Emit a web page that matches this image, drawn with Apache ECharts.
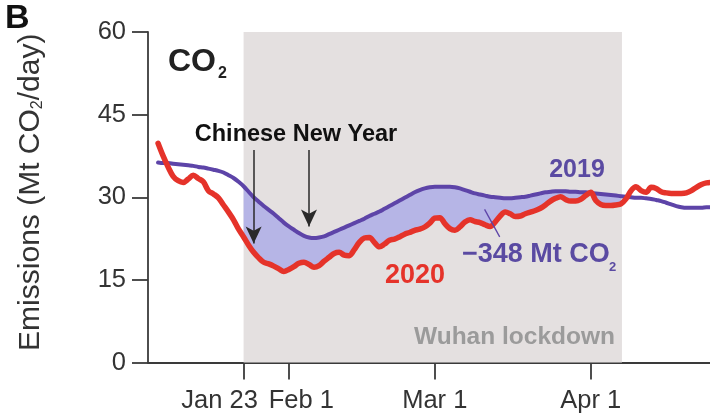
<!DOCTYPE html>
<html>
<head>
<meta charset="utf-8">
<script src="https://cdn.jsdelivr.net/npm/echarts@6/dist/echarts.min.js"></script>
<style>
  html, body { margin: 0; padding: 0; background: #ffffff; }
  #chart { width: 710px; height: 415px; }
</style>
</head>
<body>
<div id="chart"></div>
<script>
// Daily CO2 emissions (Mt CO2/day). x is the day of the year, 0 = Jan 1.
const firstDay = 5; // Jan 6

const emis2019 = [
  36.3, 36.2, 36.2, 36.1, 36.0, 35.9, 35.8, 35.7, 35.5,
  35.4, 35.2, 35.0, 34.8, 34.5, 34.0, 33.5, 32.8,
  32.0, 31.0, 30.0, 29.2, 28.4, 27.7, 27.0, 26.2, 25.4,
  24.7, 24.1, 23.5, 23.0, 22.7, 22.6, 22.7, 22.9, 23.3, 23.7,
  24.1, 24.5, 24.9, 25.3, 25.7, 26.1, 26.6, 27.0, 27.4, 27.9,
  28.4, 28.9, 29.4, 29.9, 30.4, 30.9, 31.3, 31.6, 31.8, 31.9,
  31.9, 31.9, 31.9, 31.8, 31.6, 31.3, 31.0, 30.7, 30.5, 30.3,
  30.1, 30.0, 29.9, 29.8, 29.8, 29.9, 30.0, 30.1, 30.3, 30.5,
  30.7, 30.9, 31.0, 31.1, 31.1, 31.1, 31.0, 31.0, 30.9, 30.9,
  30.8, 30.7, 30.6, 30.5, 30.4, 30.3, 30.2, 30.1, 30.0, 29.9,
  29.9, 29.8, 29.7, 29.5, 29.3, 29.0, 28.7, 28.4, 28.2, 28.1,
  28.1, 28.1, 28.1, 28.2, 28.2
];

const emis2020 = [
  39.8, 37.5, 35.5, 33.8, 33.0, 32.7, 33.3, 34.0, 33.4, 32.8,
  31.2, 30.6, 29.9, 28.6, 27.3, 25.9, 24.2, 22.8, 21.3, 20.0,
  19.0, 18.2, 17.9, 17.5, 17.0, 16.5, 16.9, 17.4, 18.0, 18.2,
  17.8, 17.3, 17.6, 18.4, 19.1, 19.8, 20.0, 19.5, 19.4, 20.5,
  21.8, 22.6, 22.7, 21.8, 21.0, 21.5, 22.2, 22.4, 22.8, 23.3,
  23.6, 24.0, 24.2, 24.6, 25.3, 26.2, 26.3, 25.2, 24.3, 24.0,
  24.6, 25.5, 25.9, 25.6, 25.4, 25.0, 24.7, 25.5, 26.6, 27.3,
  27.0, 26.5, 26.6, 27.0, 27.3, 27.6, 28.0, 28.6, 29.3, 29.8,
  30.1, 29.6, 29.3, 29.3, 29.6, 30.3, 30.9, 29.4, 28.7, 28.5,
  28.5, 28.6, 28.8, 29.7, 31.2, 31.9, 31.2, 30.9, 31.8, 31.6,
  31.0, 30.8, 30.7, 30.7, 30.7, 30.8, 31.2, 31.8, 32.3, 32.6, 32.7
];

const tickDays = [22, 31, 60, 91];
const tickLabels = ['Jan 23', 'Feb 1', 'Mar 1', 'Apr 1'];
const yTicks = [0, 15, 30, 45, 60];

const lockdownStart = 22;   // Jan 23
const lockdownEnd = 97.2;   // early April
const newYear2020 = 24;     // Jan 25, 2020
const newYear2019 = 35;     // Feb 5, 2019
const gapLabel = '\u2212348 Mt CO';

const xMin = 3;
const xMax = 114.7;

const RED = '#e5332a';
const PURPLE = '#5d44a8';
const PURPLE_TEXT = '#5a4aa2';
const SHADE = '#e4e0e0';
const GAP_FILL = '#b6b5e6';
const INK = '#333333';
const FONT = '"Liberation Sans", Arial, Helvetica, sans-serif';
const TICK_FONT = 25.5;

const pairs = arr => arr.map((v, i) => [firstDay + i, v]);

const chart = echarts.init(document.getElementById('chart'), null, { renderer: 'canvas' });

const txt = (x, y, text, font, fill, align) => ({
  type: 'text', x, y, z: 100,
  style: { text, font: font + ' ' + FONT, fill, align: align || 'left', verticalAlign: 'middle' }
});

const option = {
  animation: false,
  backgroundColor: '#ffffff',
  textStyle: { fontFamily: FONT },
  grid: { left: 148, right: 0, top: 32, bottom: 52.5, containLabel: false },
  xAxis: {
    type: 'value',
    min: xMin,
    max: xMax,
    splitLine: { show: false },
    axisLine: { show: true, onZero: false, lineStyle: { color: '#3a3a3a', width: 1.8 } },
    axisTick: {
      show: true, length: 17, customValues: tickDays,
      lineStyle: { color: '#3a3a3a', width: 1.8 }
    },
    axisLabel: {
      customValues: tickDays,
      margin: 25,
      fontSize: TICK_FONT,
      color: INK,
      fontFamily: FONT,
      formatter: v => {
        const i = tickDays.indexOf(v);
        if (i === 0) return '{l|' + tickLabels[i] + '}';
        if (i === 1) return '{r|' + tickLabels[i] + '}';
        return i >= 0 ? tickLabels[i] : '';
      },
      rich: {
        l: { fontSize: TICK_FONT, color: INK, fontFamily: FONT, padding: [0, 48, 0, 0] },
        r: { fontSize: TICK_FONT, color: INK, fontFamily: FONT, padding: [0, 0, 0, 25] }
      }
    }
  },
  yAxis: {
    type: 'value',
    min: 0,
    max: 60,
    interval: 15,
    splitLine: { show: false },
    axisLine: { show: true, lineStyle: { color: '#3a3a3a', width: 1.8 } },
    axisTick: { show: true, length: 16, lineStyle: { color: '#3a3a3a', width: 1.8 } },
    axisLabel: {
      margin: 22, fontSize: TICK_FONT, color: INK, fontFamily: FONT,
      formatter: v => (yTicks.indexOf(v) >= 0 ? String(v) : '')
    },
    name: 'Emissions (Mt CO{s|2}/day)',
    nameLocation: 'middle',
    nameRotate: 90,
    nameGap: 102,
    nameTextStyle: {
      fontSize: 30, color: INK, fontFamily: FONT, padding: [0, 0, 0, 10],
      rich: { s: { fontSize: 16, color: INK, fontFamily: FONT, padding: [15, 0, 0, 0] } }
    }
  },
  series: [
    {
      // lockdown shading and the 2019-2020 gap
      type: 'custom',
      coordinateSystem: 'cartesian2d',
      silent: true,
      z: 1,
      data: [[lockdownStart, 0]],
      renderItem: (params, api) => {
        const tl = api.coord([lockdownStart, 60]);
        const br = api.coord([lockdownEnd, 0]);
        const upper = [];
        const lower = [];
        for (let d = lockdownStart; d <= lockdownEnd; d++) {
          const i = d - firstDay;
          const a = emis2019[i];
          const b = emis2020[i];
          upper.push(api.coord([d, a]));
          lower.push(api.coord([d, Math.min(a, b)]));
        }
        return {
          type: 'group',
          children: [
            { type: 'rect', shape: { x: tl[0], y: tl[1], width: br[0] - tl[0], height: br[1] - tl[1] },
              style: { fill: SHADE } },
            { type: 'polygon', shape: { points: upper.concat(lower.reverse()) },
              style: { fill: GAP_FILL } }
          ]
        };
      }
    },
    {
      name: '2019',
      type: 'line',
      z: 3,
      data: pairs(emis2019),
      showSymbol: false,
      smooth: 0.3,
      lineStyle: { color: PURPLE, width: 4, cap: 'round', join: 'round' },
      markLine: {
        silent: true,
        symbol: ['none', 'none'],
        label: { show: false },
        lineStyle: { color: PURPLE, width: 1.3, type: 'solid' },
        data: [[{ coord: [69.9, 27.8] }, { coord: [72.9, 22.8] }]]
      }
    },
    {
      name: '2020',
      type: 'line',
      z: 4,
      data: pairs(emis2020),
      showSymbol: false,
      smooth: 0.35,
      lineStyle: { color: RED, width: 5.5, cap: 'round', join: 'round' },
      markLine: {
        silent: true,
        symbol: ['none', 'arrow'],
        symbolSize: [12, 17],
        label: { show: false },
        lineStyle: { color: '#2a2a2a', width: 1.5, type: 'solid' },
        data: [
          [{ coord: [newYear2020, 38.6] }, { coord: [newYear2020, 21.6] }],
          [{ coord: [newYear2019, 38.6] }, { coord: [newYear2019, 24.7] }]
        ]
      }
    }
  ],
  graphic: [
    txt(5, 19, 'B', 'bold 34px', '#111'),
    txt(168, 62, 'CO', 'bold 32px', '#222'),
    txt(218, 74, '2', 'bold 16px', '#222'),
    txt(296, 135, 'Chinese New Year', 'bold 23.5px', '#111', 'center'),
    txt(577, 170, '2019', 'bold 25px', PURPLE_TEXT, 'center'),
    txt(415, 276, '2020', 'bold 27px', RED, 'center'),
    txt(462, 255, gapLabel, 'bold 27px', PURPLE_TEXT),
    txt(609, 267, '2', 'bold 13px', PURPLE_TEXT),
    txt(615, 337, 'Wuhan lockdown', 'bold 24.5px', '#9b9b9b', 'right')
  ]
};

chart.setOption(option);
</script>
</body>
</html>
